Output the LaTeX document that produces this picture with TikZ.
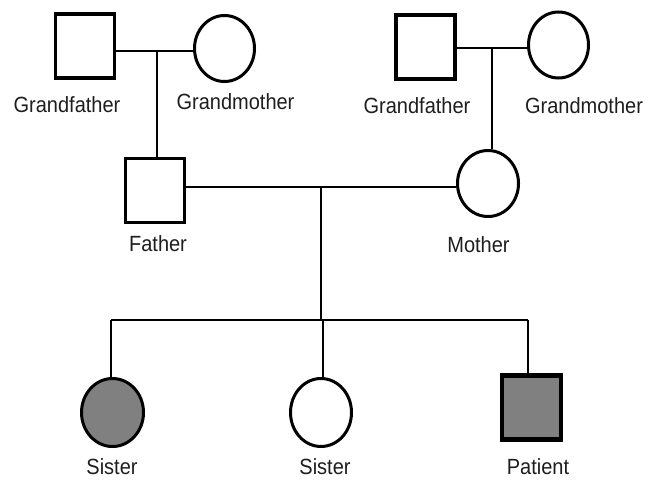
\documentclass[tikz,border=0pt]{standalone}
\usepackage{fontspec}
\setmainfont{Liberation Sans}
\usetikzlibrary{shapes.geometric}
\definecolor{aff}{RGB}{128,128,128}
\definecolor{txt}{RGB}{30,30,30}
\tikzset{
  male/.style={draw=black, line width=3.2pt, rectangle, minimum width=59pt, minimum height=64pt, inner sep=0pt, fill=white},
  female/.style={draw=black, line width=3pt, ellipse, minimum width=60pt, minimum height=66pt, inner sep=0pt, fill=white},
  affected/.style={fill=aff},
  lbl/.style={inner sep=0pt, text=txt, font=\fontsize{20pt}{24pt}\selectfont},
  conn/.style={draw=black, line width=1.2pt}
}
\newcommand{\lb}[1]{\scalebox{1}[1.1]{#1}}
\begin{document}
\begin{tikzpicture}[x=1pt,y=-1pt]
\useasboundingbox (0,0) rectangle (660,479);
% grandparents left
\node[male] (gf1) at (85,46) {};
\node[female] (gm1) at (224.5,48.5) {};
% grandparents right
\node[male] (gf2) at (425.5,47) {};
\node[female] (gm2) at (558.5,45) {};
% parents
\node[male] (fa) at (155,190.5) {};
\node[female, minimum width=61pt, minimum height=66pt] (mo) at (488,183.5) {};
% children
\node[female, affected, minimum width=62pt, minimum height=68pt] (s1) at (112.5,412.5) {};
\node[female, minimum width=61pt, minimum height=68pt] (s2) at (321,412.5) {};
\node[male, affected, line width=4.5pt] (pt) at (531.5,407.5) {};
% labels
\node[lbl] (lgf1) at (67,105) {\lb{Grandfather}};
\node[lbl] (lgm1) at (235.5,102) {\lb{Grandmother}};
\node[lbl] (lgf2) at (417,106) {\lb{Grandfather}};
\node[lbl] (lgm2) at (584,106) {\lb{Grandmother}};
\node[lbl] (lfa) at (158,244) {\lb{Father}};
\node[lbl] (lmo) at (478.5,245) {\lb{Mother}};
\node[lbl] (ls1) at (112,467) {\lb{Sister}};
\node[lbl] (ls2) at (325,467) {\lb{Sister}};
\node[lbl] (lpt) at (538,467) {\lb{Patient}};
% connectors
\coordinate (m1) at (157,51);
\coordinate (m2) at (492,48);
\coordinate (m3) at (321,187);
\coordinate (sib) at (321,320);
\draw[conn] (gf1.east |- m1) -- (gm1.west |- m1);
\draw[conn] (m1) -- (m1 |- fa.north);
\draw[conn] (gf2.east |- m2) -- (gm2.west |- m2);
\draw[conn] (m2) -- (m2 |- mo.north);
\draw[conn] (fa.east |- m3) -- (mo.west |- m3);
\draw[conn] (m3) -- (sib);
\draw[conn] ([xshift=-1.5pt]s1.north |- sib) -- ([xshift=-3.5pt]pt.north |- sib);
\draw[conn] ([xshift=-1.5pt]s1.north |- sib) -- ([xshift=-1.5pt]s1.north);
\draw[conn] ([xshift=2pt]s2.north |- sib) -- ([xshift=2pt]s2.north);
\draw[conn] ([xshift=-3.5pt]pt.north |- sib) -- ([xshift=-3.5pt]pt.north);
\end{tikzpicture}
\end{document}
